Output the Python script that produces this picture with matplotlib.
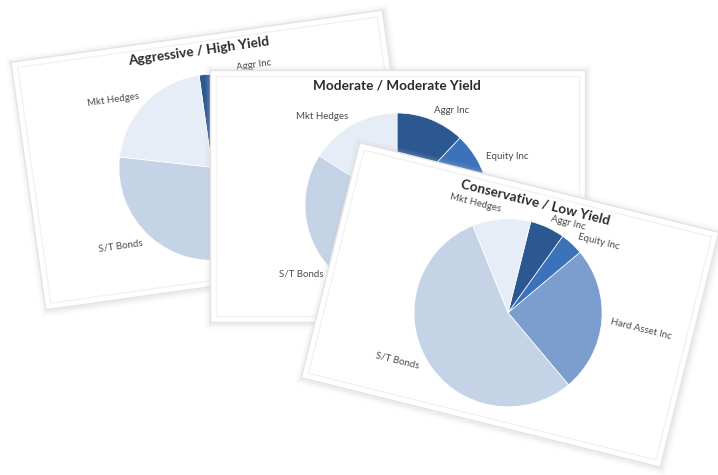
import matplotlib
matplotlib.use('Agg')
import matplotlib.pyplot as plt
from matplotlib.patches import Rectangle
from matplotlib.transforms import Affine2D

plt.rcParams['font.family'] = ['Lato', 'DejaVu Sans']

labels = ['Aggr Inc', 'Equity Inc', 'Hard Asset Inc', 'S/T Bonds', 'Mkt Hedges']
colors = ['#2c5891', '#3c72b9', '#7b9ecf', '#c5d3e7', '#e7edf7']

titles = ['Aggressive / High Yield', 'Moderate / Moderate Yield', 'Conservative / Low Yield']
aggressive = [12, 15, 22, 30, 21]
moderate = [12, 10, 20, 42, 16]
conservative = [6, 4, 25, 55, 10]

W, H = 718, 475
fig = plt.figure(figsize=(7.18, 4.75), dpi=100)
ax = fig.add_axes([0, 0, 1, 1])

# card layout in pixels (y up): centre, rotation, size, pie offset, pie radius
cards = [
    ((214, 315), 8, (375, 250), (-3, -7), 93),
    ((397, 279), 0, (375, 252), (0, -9), 92),
    ((510, 170), -14, (370, 242), (0, -8), 94),
]


def draw_card(values, title, layout, z):
    centre, angle, size, pie_off, r = layout
    w, h = size
    tr = Affine2D().rotate_deg(angle).translate(*centre) + ax.transData
    # soft shadow
    for grow, a in [(6, 0.07), (4, 0.10), (2, 0.16)]:
        ax.add_patch(Rectangle((-w / 2 - grow + 1, -h / 2 - grow - 1), w + 2 * grow, h + 2 * grow,
                               facecolor='#c8c8c8', edgecolor='none', alpha=a,
                               transform=tr, zorder=z))
    ax.add_patch(Rectangle((-w / 2, -h / 2), w, h, facecolor='white', edgecolor='#e4e4e4',
                           linewidth=1.0, transform=tr, zorder=z + 1))
    ax.add_patch(Rectangle((-w / 2 + 6, -h / 2 + 6), w - 12, h - 12, facecolor='none',
                           edgecolor='#f2f2f2', linewidth=1.0, transform=tr, zorder=z + 1))

    wedges, texts = ax.pie(values, labels=labels, colors=colors, radius=r, center=pie_off,
                           startangle=90, counterclock=False, labeldistance=1.1,
                           wedgeprops=dict(edgecolor='white', linewidth=0.5),
                           textprops=dict(fontsize=7, color='#4a4a4a'))
    for wd in wedges:
        wd.set_transform(tr)
        wd.set_zorder(z + 2)
    for t in texts:
        t.set_transform(tr)
        t.set_rotation(angle)
        t.set_rotation_mode('anchor')
        t.set_zorder(z + 3)

    ax.text(0, h / 2 - 15, title, transform=tr, rotation=angle, rotation_mode='anchor',
            ha='center', va='center', fontsize=9.8, fontweight='bold', color='#2b2b2b',
            zorder=z + 3)


draw_card(aggressive, titles[0], cards[0], 10)
draw_card(moderate, titles[1], cards[1], 20)
draw_card(conservative, titles[2], cards[2], 30)

ax.set_xlim(0, W)
ax.set_ylim(0, H)
ax.set_aspect('auto')
ax.axis('off')

fig.savefig('out.png', dpi=100, facecolor='white')
